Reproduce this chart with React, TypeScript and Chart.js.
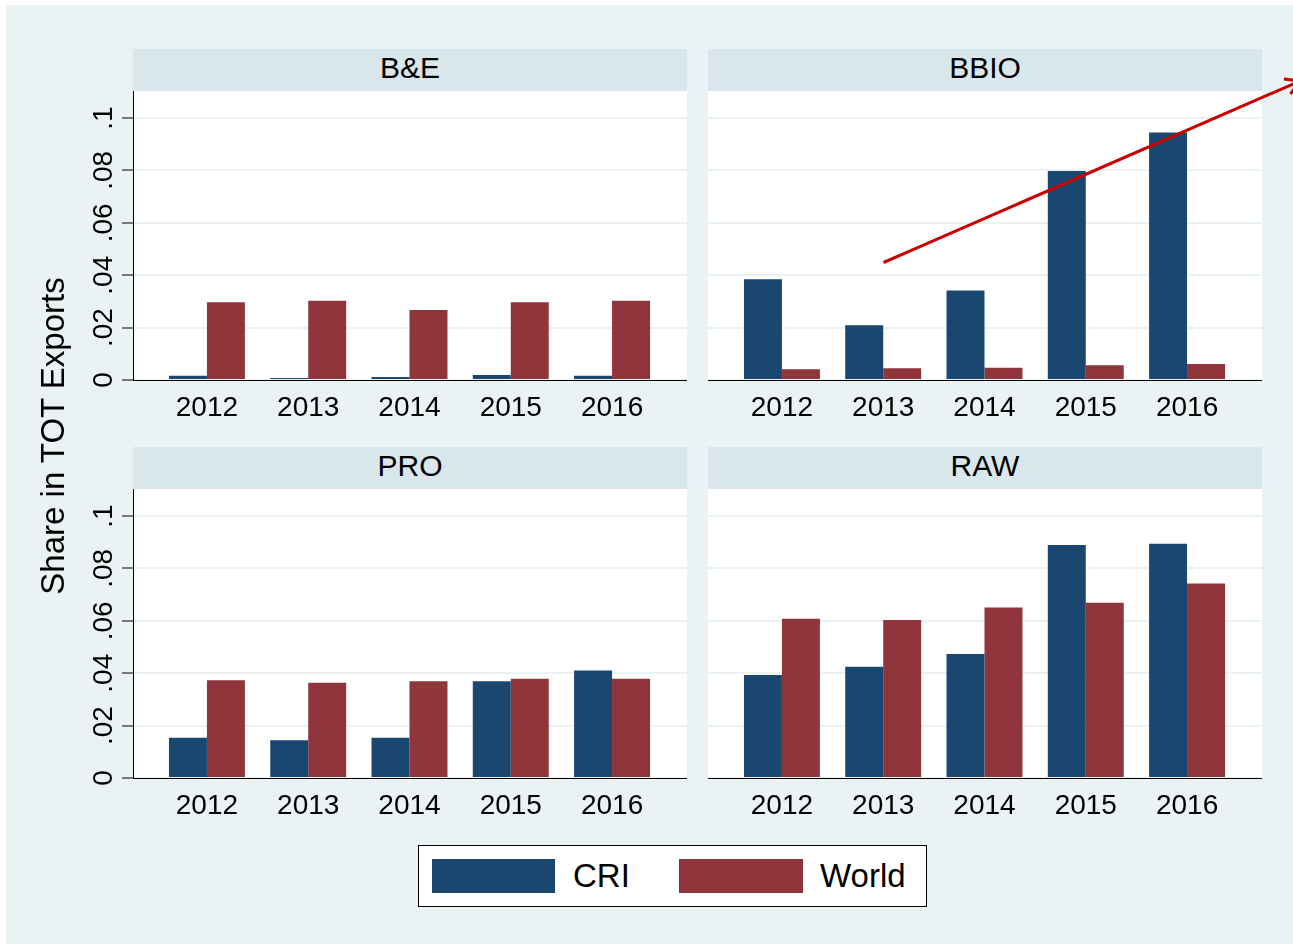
import React, { useEffect, useRef } from "react";
import { Chart, registerables } from "chart.js";

Chart.register(...registerables);

// ---------- data ----------
const years = [2012, 2013, 2014, 2015, 2016];
const seriesNames = ["CRI", "World"];
const panelNames = ["B&E", "BBIO", "PRO", "RAW"];

const criBE = [0.0016, 0.0008, 0.0011, 0.0019, 0.0016];
const worldBE = [0.0297, 0.0302, 0.0267, 0.0297, 0.0302];

const criBBIO = [0.0385, 0.0209, 0.0342, 0.0798, 0.0945];
const worldBBIO = [0.0041, 0.0045, 0.0047, 0.0056, 0.0061];

const criPRO = [0.0154, 0.0144, 0.0154, 0.0369, 0.041];
const worldPRO = [0.0373, 0.0364, 0.0369, 0.0379, 0.0379];

const criRAW = [0.0393, 0.0425, 0.0473, 0.0889, 0.0894];
const worldRAW = [0.0608, 0.0603, 0.0651, 0.0669, 0.0742];

const yTickValues = [0, 0.02, 0.04, 0.06, 0.08, 0.1];
const yTickLabels = ["0", ".02", ".04", ".06", ".08", ".1"];
const yTitle = "Share in TOT Exports";

// ---------- style ----------
const FONT = '"Liberation Sans", Arial, Helvetica, sans-serif';
const BG = "#eaf2f3";
const STRIP = "#d9e6eb";
const NAVY = "#1a476f";
const MAROON = "#90353b";

const PLOT_W = 554;
const PLOT_H = 289;
const YAXIS_W = 73;
const XAXIS_H = 50;

const panelPlugin = {
  id: "panelText",
  beforeDraw(chart: any) {
    const { ctx, chartArea: a } = chart;
    ctx.save();
    ctx.fillStyle = "#ffffff";
    ctx.fillRect(a.left, a.top, a.right - a.left, a.bottom - a.top);
    ctx.restore();
  },
  afterDraw(chart: any, _args: any, opts: any) {
    const { ctx, chartArea: a, scales } = chart;
    ctx.save();
    ctx.fillStyle = "#000";
    ctx.textAlign = "center";
    ctx.textBaseline = "alphabetic";
    ctx.font = `28px ${FONT}`;
    scales.x.ticks.forEach((t: any) => {
      ctx.fillText(String(t.value), scales.x.getPixelForValue(t.value), a.bottom + 36);
    });
    if (opts && opts.showY) {
      ctx.font = `28px ${FONT}`;
      scales.y.ticks.forEach((t: any, i: number) => {
        ctx.save();
        ctx.translate(a.left - 21, scales.y.getPixelForValue(t.value));
        ctx.rotate(-Math.PI / 2);
        ctx.fillText(yTickLabels[i], 0, 0);
        ctx.restore();
      });
    }
    ctx.restore();
  },
};

function makeConfig(cri: number[], world: number[], showY: boolean): any {
  return {
    type: "bar",
    data: {
      datasets: [
        {
          label: seriesNames[0],
          data: years.map((x, i) => ({ x, y: cri[i] })),
          backgroundColor: NAVY,
          borderWidth: 0,
          categoryPercentage: 0.75,
          barPercentage: 1,
        },
        {
          label: seriesNames[1],
          data: years.map((x, i) => ({ x, y: world[i] })),
          backgroundColor: MAROON,
          borderWidth: 0,
          categoryPercentage: 0.75,
          barPercentage: 1,
        },
      ],
    },
    options: {
      responsive: false,
      animation: false,
      devicePixelRatio: 1,
      layout: { padding: 0 },
      plugins: {
        legend: { display: false },
        tooltip: { enabled: false },
        title: { display: false },
        panelText: { showY },
      },
      scales: {
        x: {
          type: "linear",
          min: 2011.27,
          max: 2016.74,
          offset: false,
          afterBuildTicks: (s: any) => {
            s.ticks = years.map((v) => ({ value: v }));
          },
          afterFit: (s: any) => {
            s.height = XAXIS_H;
          },
          grid: { display: false, drawTicks: false, offset: false },
          border: { display: true, color: "#000", width: 1, z: 1 },
          ticks: { display: false },
        },
        y: {
          type: "linear",
          min: 0,
          max: 0.1103,
          afterBuildTicks: (s: any) => {
            s.ticks = yTickValues.map((v) => ({ value: v }));
          },
          afterFit: (s: any) => {
            s.width = showY ? YAXIS_W : 0;
          },
          grid: {
            color: BG,
            lineWidth: 2,
            drawTicks: showY,
            tickLength: 11,
            tickColor: "#000",
            tickWidth: 1,
          },
          border: { display: showY, color: "#000", width: 1, z: 1 },
          ticks: { display: false },
        },
      },
    },
    plugins: [panelPlugin],
  };
}

function Panel(props: { left: number; top: number; title: string; cri: number[]; world: number[]; showY: boolean }) {
  const { left, top, title, cri, world, showY } = props;
  const ref = useRef<HTMLCanvasElement>(null);
  useEffect(() => {
    const chart = new Chart(ref.current as HTMLCanvasElement, makeConfig(cri, world, showY));
    return () => chart.destroy();
  }, []);
  const w = showY ? YAXIS_W + PLOT_W : PLOT_W;
  const h = PLOT_H + XAXIS_H;
  return (
    <>
      <div
        style={{
          position: "absolute",
          left,
          top: top - 42,
          width: PLOT_W,
          height: 42,
          background: STRIP,
          fontFamily: FONT,
          fontSize: 30,
          lineHeight: "38px",
          textAlign: "center",
          color: "#000",
        }}
      >
        {title}
      </div>
      <canvas
        ref={ref}
        width={w}
        height={h}
        style={{ position: "absolute", left: showY ? left - YAXIS_W : left, top, width: w, height: h }}
      />
    </>
  );
}

export default function App() {
  return (
    <div style={{ position: "absolute", left: 0, top: 0, width: 1293, height: 944, background: "#fff", overflow: "hidden" }}>
      <div style={{ position: "absolute", left: 6, top: 5, width: 1287, height: 939, background: BG }} />
      <Panel left={133} top={91} title={panelNames[0]} cri={criBE} world={worldBE} showY={true} />
      <Panel left={708} top={91} title={panelNames[1]} cri={criBBIO} world={worldBBIO} showY={false} />
      <Panel left={133} top={489} title={panelNames[2]} cri={criPRO} world={worldPRO} showY={true} />
      <Panel left={708} top={489} title={panelNames[3]} cri={criRAW} world={worldRAW} showY={false} />

      <div
        style={{
          position: "absolute",
          left: 52,
          top: 436,
          transform: "translate(-50%, -50%) rotate(-90deg)",
          fontFamily: FONT,
          fontSize: 33,
          lineHeight: 1,
          whiteSpace: "nowrap",
          color: "#000",
        }}
      >
        {yTitle}
      </div>

      <div
        style={{
          position: "absolute",
          left: 418,
          top: 845,
          width: 507,
          height: 60,
          background: "#fff",
          border: "1px solid #000",
        }}
      />
      <div style={{ position: "absolute", left: 432, top: 859, width: 123, height: 34, background: NAVY }} />
      <div
        style={{
          position: "absolute",
          left: 573,
          top: 860,
          height: 32,
          lineHeight: "32px",
          fontFamily: FONT,
          fontSize: 33,
          whiteSpace: "nowrap",
          color: "#000",
        }}
      >
        {seriesNames[0]}
      </div>
      <div style={{ position: "absolute", left: 679, top: 859, width: 124, height: 34, background: MAROON }} />
      <div
        style={{
          position: "absolute",
          left: 820,
          top: 860,
          height: 32,
          lineHeight: "32px",
          fontFamily: FONT,
          fontSize: 33,
          whiteSpace: "nowrap",
          color: "#000",
        }}
      >
        {seriesNames[1]}
      </div>

      <svg
        width={1293}
        height={944}
        style={{ position: "absolute", left: 0, top: 0, pointerEvents: "none" }}
      >
        <line x1={883.5} y1={262.5} x2={1300} y2={81} stroke="#c80000" strokeWidth={3} />
        <polyline points="1284,79 1300,81 1290.5,94" fill="none" stroke="#c80000" strokeWidth={3} />
      </svg>
    </div>
  );
}
